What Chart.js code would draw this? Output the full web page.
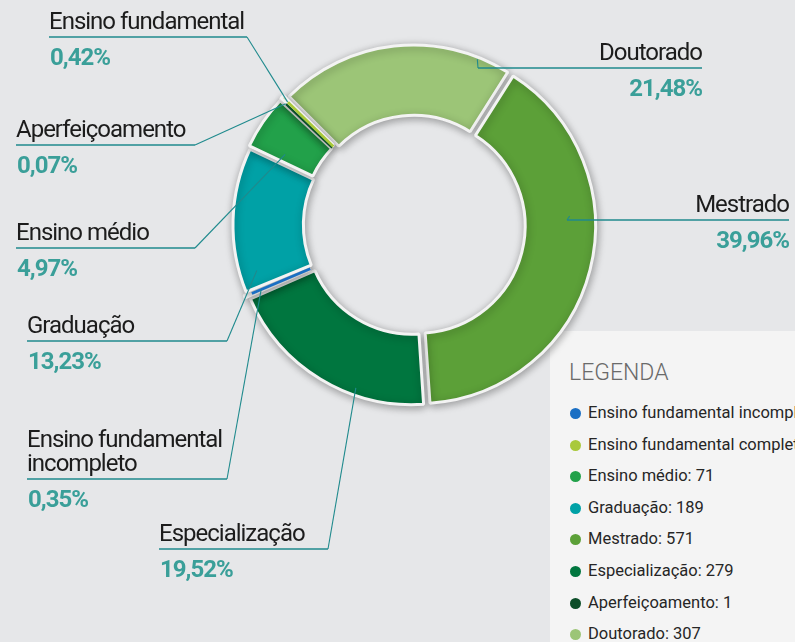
<!DOCTYPE html>
<html lang="pt-BR">
<head>
<meta charset="utf-8">
<title>Escolaridade</title>
<script src="https://cdn.jsdelivr.net/npm/chart.js@4.4.1/dist/chart.umd.min.js"></script>
<style>
  html, body { margin: 0; padding: 0; }
  body {
    width: 795px; height: 642px; overflow: hidden; position: relative;
    background: #e6e7e9; font-family: Roboto, "Noto Sans", sans-serif;
  }
  #legend {
    position: absolute; left: 550px; top: 331px; width: 320px; height: 330px;
    background: #f4f4f4;
  }
  #legend .title {
    position: absolute; left: 19px; top: 30px;
    font-size: 23px; font-weight: 300; color: #6a6a6a; line-height: 1;
  }
  #legend .row {
    position: absolute; left: 20px; height: 20px; line-height: 20px;
    font-size: 16.5px; color: #262626; white-space: nowrap;
  }
  #legend .dot {
    display: inline-block; width: 11px; height: 11px; border-radius: 50%;
    margin-right: 7px; vertical-align: -1px;
  }
  #chart { position: absolute; left: 0; top: 0; z-index: 2; }
</style>
</head>
<body>
<div id="legend"><div class="title">LEGENDA</div></div>
<canvas id="chart" width="795" height="642"></canvas>
<script>
// data, in the order the ring is drawn (clockwise from Doutorado)
const categories = ['Doutorado', 'Mestrado', 'Especialização', 'Ensino fundamental incompleto',
  'Graduação', 'Ensino médio', 'Aperfeiçoamento', 'Ensino fundamental completo'];
const counts = [307, 571, 279, 5, 189, 71, 1, 6];
const calloutNames = ['Doutorado', 'Mestrado', 'Especialização', 'Ensino fundamental\nincompleto',
  'Graduação', 'Ensino médio', 'Aperfeiçoamento', 'Ensino fundamental'];
const legendOrder = ['Ensino fundamental incompleto', 'Ensino fundamental completo', 'Ensino médio',
  'Graduação', 'Mestrado', 'Especialização', 'Aperfeiçoamento', 'Doutorado'];

const colors = ['#9cc577', '#5ca038', '#00763f', '#1a6fc4', '#00a1a6', '#22a14a', '#0c4e29', '#a9c93b'];

const total = counts.reduce((s, v) => s + v, 0);
const shares = counts.map(v => v / total * 100);

// where each callout sits (f = position along the slice, t = between inner and outer edge)
const calloutLayout = [
  { align: 'right', x: 702, lineY: 68, lx: 478, f: 0.86, t: 0.97 },
  { align: 'right', x: 789, lineY: 220, lx: 567, f: 0.375, t: 0.66 },
  { align: 'left', x: 159, lineY: 549, lx: 328, f: 0.33, t: 0.9 },
  { align: 'left', x: 27, lineY: 479, lx: 227, f: 0.5, t: 0.8 },
  { align: 'left', x: 27, lineY: 341, lx: 227, f: 0.12, t: 0.77 },
  { align: 'left', x: 16, lineY: 248, lx: 195, f: 0.18, t: 0.53 },
  { align: 'left', x: 16, lineY: 145, lx: 195, f: 0.5, t: 0.95 },
  { align: 'left', x: 49, lineY: 37, lx: 247, f: 0.5, t: 0.95 }
];

const OFFSET = 16;

function fmt(v) {
  return v.toFixed(2).replace('.', ',') + '%';
}

// legend panel
const legend = document.getElementById('legend');
legendOrder.forEach((name, k) => {
  const i = categories.indexOf(name);
  const row = document.createElement('div');
  row.className = 'row';
  row.style.top = (72 + k * 31.6) + 'px';
  row.innerHTML = '<span class="dot" style="background:' + colors[i] + '"></span>' + name + ': ' + counts[i];
  legend.appendChild(row);
});

// soft shadow under the slices, and a visible core for the very thin slices
const shadowPlugin = {
  id: 'sliceShadow',
  beforeDatasetsDraw(chart) {
    const ctx = chart.ctx;
    ctx.save();
    ctx.shadowColor = 'rgba(0,0,0,0.33)';
    ctx.shadowBlur = 9;
    ctx.shadowOffsetX = 1;
    ctx.shadowOffsetY = 2;
  },
  afterDatasetsDraw(chart) {
    const ctx = chart.ctx;
    ctx.restore();
    const arcs = chart.getDatasetMeta(0).data;
    ctx.save();
    ctx.lineCap = 'butt';
    arcs.forEach((arc, i) => {
      if (shares[i] >= 1) return;
      const p = arc.getProps(['x', 'y', 'startAngle', 'endAngle', 'innerRadius', 'outerRadius'], true);
      const mid = (p.startAngle + p.endAngle) / 2;
      const s = OFFSET / 4;
      const r0 = p.innerRadius + s + 3, r1 = p.outerRadius + s - 4;
      ctx.strokeStyle = colors[i];
      ctx.lineWidth = i === 6 ? 2.2 : 2.8;
      ctx.beginPath();
      ctx.moveTo(p.x + Math.cos(mid) * r0, p.y + Math.sin(mid) * r0);
      ctx.lineTo(p.x + Math.cos(mid) * r1, p.y + Math.sin(mid) * r1);
      ctx.stroke();
    });
    ctx.restore();
  }
};

// labels with leader lines
const calloutPlugin = {
  id: 'callouts',
  afterDraw(chart) {
    const ctx = chart.ctx;
    const arcs = chart.getDatasetMeta(0).data;
    ctx.save();
    ctx.letterSpacing = '-1px';
    arcs.forEach((arc, i) => {
      const L = calloutLayout[i];
      const p = arc.getProps(['x', 'y', 'startAngle', 'endAngle', 'innerRadius', 'outerRadius'], true);
      const a = p.startAngle + (p.endAngle - p.startAngle) * L.f;
      const mid = (p.startAngle + p.endAngle) / 2;
      const shift = OFFSET / 4;
      const r = p.innerRadius + (p.outerRadius - p.innerRadius) * L.t;
      const ax = p.x + Math.cos(a) * r + Math.cos(mid) * shift;
      const ay = p.y + Math.sin(a) * r + Math.sin(mid) * shift;

      ctx.strokeStyle = '#1f8a8d';
      ctx.lineWidth = 1.5;
      ctx.beginPath();
      ctx.moveTo(L.x, L.lineY);
      ctx.lineTo(L.lx, L.lineY);
      ctx.stroke();
      ctx.lineWidth = 1.1;
      ctx.beginPath();
      ctx.moveTo(L.lx, L.lineY);
      ctx.lineTo(ax, ay);
      ctx.stroke();

      ctx.textAlign = L.align;
      ctx.textBaseline = 'alphabetic';
      ctx.fillStyle = '#1c1c1c';
      ctx.font = '400 24px Roboto';
      const lines = calloutNames[i].split('\n');
      lines.forEach((line, k) => {
        ctx.fillText(line, L.x, L.lineY - 8 - (lines.length - 1 - k) * 24);
      });
      ctx.fillStyle = '#3a9f99';
      ctx.font = '700 24px Roboto';
      ctx.fillText(fmt(shares[i]), L.align === 'left' ? L.x + 1 : L.x, L.lineY + 28);
    });
    ctx.restore();
  }
};

new Chart(document.getElementById('chart'), {
  type: 'doughnut',
  data: {
    labels: categories,
    datasets: [{
      data: counts,
      backgroundColor: colors,
      borderColor: '#f3f3f3',
      borderWidth: 3,
      offset: OFFSET
    }]
  },
  options: {
    responsive: false,
    animation: false,
    rotation: -45,
    radius: 176,
    cutout: '60%',
    layout: { padding: { left: 224, right: 191, top: 35, bottom: 227 } },
    plugins: {
      legend: { display: false },
      tooltip: { enabled: false }
    }
  },
  plugins: [shadowPlugin, calloutPlugin]
});
</script>
</body>
</html>
